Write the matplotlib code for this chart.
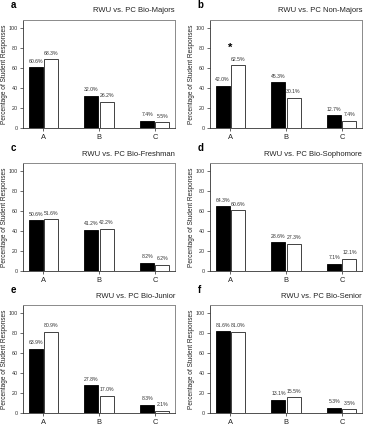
import numpy as np
import matplotlib
matplotlib.use('Agg')
import matplotlib.pyplot as plt

plt.rcParams['font.family'] = ['Liberation Sans', 'DejaVu Sans']

categories = ['A', 'B', 'C']
letters = ['a', 'b', 'c', 'd', 'e', 'f']
titles = ['RWU vs. PC Bio-Majors', 'RWU vs. PC Non-Majors',
          'RWU vs. PC Bio-Freshman', 'RWU vs. PC Bio-Sophomore',
          'RWU vs. PC Bio-Junior', 'RWU vs. PC Bio-Senior']
rwu = [[60.6, 32.0, 7.4],
       [42.0, 45.3, 12.7],
       [50.6, 41.2, 8.2],
       [64.3, 28.6, 7.1],
       [63.9, 27.8, 8.3],
       [81.6, 13.1, 5.3]]
pc = [[68.3, 26.2, 5.5],
      [62.5, 30.1, 7.4],
      [51.6, 42.2, 6.2],
      [60.6, 27.3, 12.1],
      [80.9, 17.0, 2.1],
      [81.0, 15.5, 3.5]]
# significance marks: (panel, category index, y)
stars = [(1, 0, 80)]

W, H = 367, 432
fig = plt.figure(figsize=(W / 100, H / 100), dpi=100)

lefts = [23, 210]
width = 152
tops = [20, 163, 305]
height = 108

x = np.arange(len(categories))
bw = 0.25
axs = []
for i in range(6):
    r, c = divmod(i, 2)
    ax = fig.add_axes([lefts[c] / W, 1 - (tops[r] + height) / H, width / W, height / H])
    axs.append(ax)
    b1 = ax.bar(x - 0.135, rwu[i], bw, color='black', edgecolor='black', linewidth=0.6)
    b2 = ax.bar(x + 0.135, pc[i], bw, color='white', edgecolor='#222222', linewidth=0.6)
    for bars, vals in ((b1, rwu[i]), (b2, pc[i])):
        for b, v in zip(bars, vals):
            ax.annotate('%.1f%%' % v, (b.get_x() + b.get_width() / 2, v),
                        xytext=(0, 2.5), textcoords='offset points',
                        ha='center', va='bottom', fontsize=3.7, color='#333333')
    ax.set_xlim(-0.36, 2.36)
    ax.set_ylim(0, 107.5)
    ax.set_yticks([0, 20, 40, 60, 80, 100])
    ax.set_xticks(x)
    ax.set_xticklabels(categories)
    ax.tick_params(axis='y', labelsize=3.9, length=2, width=0.5, pad=1.5, colors='#333333')
    ax.tick_params(axis='x', labelsize=5.4, length=2, width=0.5, pad=2.5, colors='#222222')
    for s in ('top', 'right'):
        ax.spines[s].set_color('#8a8a8a')
        ax.spines[s].set_linewidth(0.7)
    for s in ('left', 'bottom'):
        ax.spines[s].set_color('#333333')
        ax.spines[s].set_linewidth(0.6)
    ax.set_ylabel('Percentage of Student Responses', fontsize=4.7, labelpad=0.5, color='#222222')
    ax.text(1.0, 1.0 + 9 / height, titles[i], transform=ax.transAxes,
            ha='right', va='center', fontsize=5.5, color='#222222')
    ax.text(-0.08, 1.0 + 15 / height, letters[i], transform=ax.transAxes,
            ha='left', va='center', fontsize=7, fontweight='bold')

for p, ci, y in stars:
    axs[p].text(x[ci], y, '*', ha='center', va='center', fontsize=8, fontweight='bold')

fig.savefig('out.png', dpi=100)
